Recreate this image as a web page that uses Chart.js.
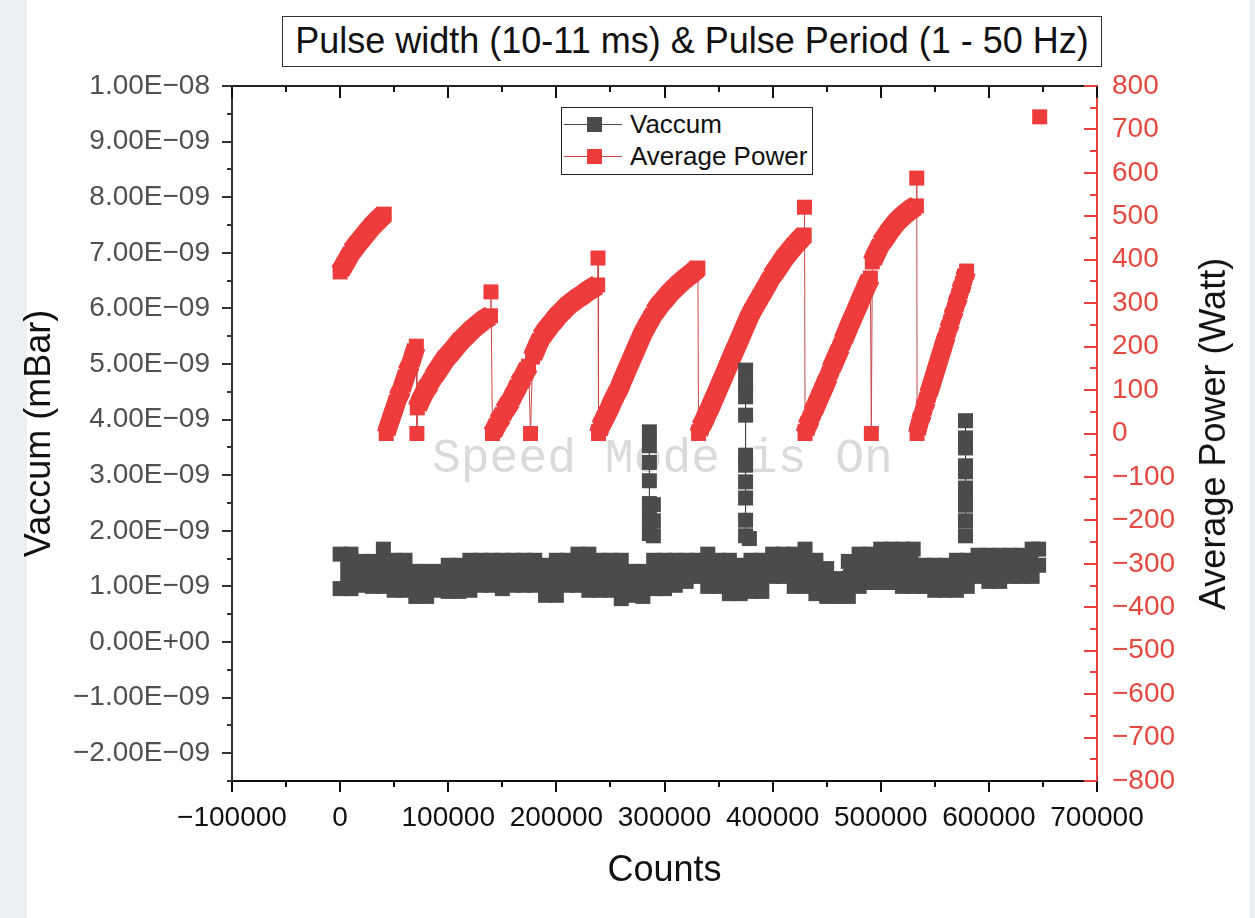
<!DOCTYPE html>
<html lang="en">
<head>
<meta charset="utf-8">
<title>Pulse width (10-11 ms) &amp; Pulse Period (1 - 50 Hz)</title>
<script src="https://cdn.jsdelivr.net/npm/chart.js@4.4.1/dist/chart.umd.min.js"></script>
<style>
  html, body { margin: 0; padding: 0; }
  body {
    width: 1255px; height: 918px; overflow: hidden;
    background: linear-gradient(to right, #eceff3 0 27px, #ffffff 27px 1250px, #eceff3 1250px);
    font-family: "Liberation Sans", Arial, sans-serif;
    color: #111;
  }
  #wrap { position: relative; width: 1255px; height: 918px; }
  #chart { position: absolute; left: 0; top: 0; }
  #title {
    position: absolute; left: 282px; top: 16px; width: 820px; height: 51px;
    box-sizing: border-box; border: 1.5px solid #333; background: #fff;
    font-size: 36px; line-height: 48px; text-align: center; white-space: nowrap;
  }
  #legend {
    position: absolute; left: 561px; top: 107px; width: 252px; height: 68px;
    box-sizing: border-box; border: 1px solid #222; background: #fff;
  }
  #legend .row { position: absolute; left: 0; width: 100%; height: 30px; }
  #legend .line { position: absolute; left: 2px; top: 14.5px; width: 58px; height: 1px; }
  #legend .mark { position: absolute; left: 25px; top: 7.5px; width: 15px; height: 15px; }
  #legend .text { position: absolute; left: 68px; top: 0; font-size: 26px; line-height: 30px; white-space: nowrap; }
  #y2title {
    position: absolute; left: 1213px; top: 434px;
    transform: translate(-50%, -50%) rotate(-90deg);
    font-size: 36px; white-space: nowrap;
  }
</style>
</head>
<body>
<div id="wrap">
  <canvas id="chart" width="1255" height="918"></canvas>
  <div id="title">Pulse width (10-11 ms) &amp; Pulse Period (1 - 50 Hz)</div>
  <div id="legend"></div>
  <div id="y2title">Average Power (Watt)</div>
</div>
<script>
// Vacuum band: one column every 10000 counts
const vacCounts = [
  0, 10000, 20000, 30000, 40000, 50000, 60000, 70000, 80000, 90000,
  100000, 110000, 120000, 130000, 140000, 150000, 160000, 170000, 180000, 190000,
  200000, 210000, 220000, 230000, 240000, 250000, 260000, 270000, 280000, 290000,
  300000, 310000, 320000, 330000, 340000, 350000, 360000, 370000, 380000, 390000,
  400000, 410000, 420000, 430000, 440000, 450000, 460000, 470000, 480000, 490000,
  500000, 510000, 520000, 530000, 540000, 550000, 560000, 570000, 580000, 590000,
  600000, 610000, 620000, 630000, 640000, 646000
];
// highest and lowest reading in each column, in units of 1E-09 mBar
const vacHigh = [
  1.58, 1.58, 1.45, 1.45, 1.67, 1.47, 1.47, 1.27, 1.27, 1.27,
  1.38, 1.38, 1.47, 1.47, 1.47, 1.47, 1.47, 1.47, 1.47, 1.38,
  1.47, 1.47, 1.58, 1.58, 1.47, 1.47, 1.47, 1.27, 1.27, 1.47,
  1.47, 1.47, 1.47, 1.47, 1.58, 1.47, 1.47, 1.38, 1.47, 1.47,
  1.58, 1.58, 1.58, 1.67, 1.47, 1.32, 1.14, 1.45, 1.58, 1.58,
  1.67, 1.67, 1.67, 1.67, 1.38, 1.38, 1.38, 1.47, 1.47, 1.56,
  1.56, 1.56, 1.56, 1.56, 1.67, 1.67
];
const vacLow = [
  0.96, 0.96, 1.02, 1.00, 1.00, 0.93, 0.93, 0.82, 0.82, 0.93,
  0.91, 0.91, 0.93, 1.02, 1.02, 0.96, 1.02, 1.02, 1.02, 0.84,
  0.84, 1.02, 1.02, 0.93, 0.93, 0.93, 0.78, 0.84, 0.82, 0.96,
  0.96, 1.02, 1.09, 1.18, 1.00, 1.00, 0.87, 0.87, 0.91, 0.91,
  1.18, 1.18, 1.00, 1.00, 0.87, 0.82, 0.82, 0.82, 1.00, 1.07,
  1.07, 1.07, 1.00, 1.00, 1.00, 0.93, 0.93, 0.93, 1.00, 1.18,
  1.09, 1.09, 1.18, 1.18, 1.18, 1.38
];

// pressure bursts above the band (null breaks the trace)
const burstCounts = [
  289700, 289700, 289700, 286000, 286000, 286000, 286000, 286000, 286000, 286000, 287000,
  378500, 375000, 375000, 375000, 375000, 375000, 375000, 375000, 375000, 375000, 375000, 376000,
  578400, 578400, 578400, 578400, 578400, 578400, 578400, 578400, 578400, 578400
];
const burstValues = [
  1.91, 2.18, 2.47, 1.95, 2.22, 2.49, 2.90, 3.23, 3.53, 3.78, null,
  1.86, 1.91, 2.19, 2.59, 2.88, 3.18, 3.36, 4.08, 4.41, 4.63, 4.89, null,
  1.91, 2.18, 2.46, 2.59, 2.77, 3.06, 3.17, 3.49, 3.67, 3.98
];

// average power trace (null breaks the trace)
const powerCounts = [
  0, 3700, 7400, 11100, 15800, 20400, 25000, 29700, 35200, 40800,
  41500,
  42600, 44500, 46400, 48200, 50100, 51900, 53800, 56600, 58400, 60300, 62100, 64900, 66700, 68600, 70500,
  71000,
  71400, 74200, 76900, 79700, 82500, 86200, 89900, 93600, 97300, 102000, 106600, 111200, 115900, 121400, 127000, 132600, 139100,
  139500,
  140900, 143700, 146500, 149200, 152000, 154800, 157600, 160400, 163200, 165900, 168700, 171500, 174300,
  176100,
  178000, 180800, 183500, 186300, 190000, 193700, 197500, 201200, 205800, 210400, 215100, 219700, 224300, 229000, 233600, 238200,
  238500,
  239000, 241000, 243800, 246600, 249400, 252100, 254900, 257700, 260500, 263300, 266000, 268800, 271600, 274400,
  277200, 280000, 283700, 287400, 291100, 294800, 299400, 304100, 308700, 313300, 318900, 324500, 330900,
  331500, 333700, 336500, 339300, 342100, 344800, 347600, 350400, 353200, 356000, 358700, 361500, 364300, 367100, 369900, 372700,
  375400, 378200, 381000, 384700, 388400, 392100, 395800, 399500, 403200, 407000, 410700, 415300, 419900, 424600, 429200,
  429500,
  430000, 432000, 434800, 437500, 440300, 443100, 445900, 448700, 451400, 454200, 457000, 459800, 462600, 465400, 468100,
  470900, 473700, 476500, 479300, 482000, 484800, 487600, 490400,
  491300,
  492200, 495000, 497800, 500600, 504300, 508000, 511700, 515400, 519100, 523800, 528400, 533000,
  533300,
  533600, 534900, 536700, 538600, 540400, 542300, 544100, 546000, 547900, 549700, 551600, 553400, 555300, 557100, 559000,
  560800, 562700, 564600, 566400, 568300, 570100, 572000, 573800, 575700, 577500, 579400,
  600000,
  647000
];
const powerWatts = [
  372, 388, 404, 420, 436, 450, 464, 478, 492, 505,
  null,
  0, 15, 29, 43, 56, 70, 84, 100, 114, 128, 142, 158, 172, 188, 201,
  0,
  59, 75, 89, 102, 114, 130, 144, 158, 172, 185, 199, 213, 224, 238, 250, 261, 271,
  326,
  0, 13, 27, 38, 52, 63, 75, 89, 102, 116, 128, 142, 155,
  0,
  176, 192, 208, 222, 236, 248, 259, 271, 282, 294, 303, 312, 319, 328, 335, 342,
  404,
  0, 17, 31, 45, 59, 75, 89, 102, 119, 135, 151, 167, 183, 199,
  215, 231, 248, 264, 280, 294, 307, 321, 333, 344, 356, 367, 381,
  0, 15, 29, 45, 59, 75, 91, 107, 123, 139, 155, 172, 188, 204, 220, 236,
  252, 268, 282, 298, 314, 330, 346, 363, 376, 390, 404, 418, 432, 445, 457,
  521,
  0, 17, 33, 50, 66, 82, 98, 114, 130, 149, 165, 181, 197, 215, 231,
  248, 264, 280, 296, 312, 328, 344, 358,
  0,
  395, 411, 425, 439, 452, 466, 478, 489, 498, 508, 517, 524,
  588,
  0, 15, 31, 45, 61, 75, 91, 105, 121, 135, 151, 165, 181, 195, 211,
  224, 241, 254, 271, 284, 300, 314, 330, 344, 360, 374,
  null,
  729
];

const xTickStep = 100000;
const vacTickStep = 1;
const powerTickStep = 100;

const GRAY = '#4b4b4b';
const RED = '#ee3c3c';
const RED_LINE = '#c94848';
const MARKER_SIDE = 15;

Chart.defaults.font.family = '"Liberation Sans", Arial, sans-serif';
Chart.defaults.color = '#111';

const toPoints = (xs, ys) => xs.map((x, i) => ({ x: x, y: ys[i] }));

function minus(v) {
  return v < 0 ? '\u2212' + Math.abs(v) : String(v);
}

// 1.5 (in 1E-09 units) -> "1.50E−09"
function sciLabel(v) {
  v = Math.round(v * 1000) / 1000;
  if (v === 0) return '0.00E+00';
  const e = Math.floor(Math.log10(Math.abs(v)));
  const mant = v / Math.pow(10, e);
  const exp = e - 9;
  return (mant < 0 ? '\u2212' : '') + Math.abs(mant).toFixed(2) + 'E' +
    (exp < 0 ? '\u2212' : '+') + String(Math.abs(exp)).padStart(2, '0');
}

function tickValues(min, max, step) {
  const half = step / 2;
  const out = [];
  for (let k = Math.ceil(min / half - 1e-6); k * half <= max + 1e-6; k++) {
    out.push({ value: k * half, major: k % 2 === 0 });
  }
  return out;
}

// consecutive readings of one rising ramp (not a drop or a jump)
function isRamp(ctx) {
  const w0 = powerWatts[ctx.p0DataIndex];
  const w1 = powerWatts[ctx.p1DataIndex];
  const dc = powerCounts[ctx.p1DataIndex] - powerCounts[ctx.p0DataIndex];
  return w1 - w0 >= 0 && w1 - w0 < 40 && dc < 7000;
}

// the dense run of square symbols is as wide as a square swept along the ramp
function rampWidth(ctx) {
  const dx = Math.abs(ctx.p1.x - ctx.p0.x);
  const dy = Math.abs(ctx.p1.y - ctx.p0.y);
  const len = Math.hypot(dx, dy) || 1;
  return Math.round(MARKER_SIDE * (dx + dy) / len);
}

const watermark = {
  id: 'watermark',
  beforeDatasetsDraw(chart) {
    const ctx = chart.ctx;
    ctx.save();
    ctx.font = '48px "Liberation Mono", "Courier New", monospace';
    ctx.fillStyle = '#dadada';
    ctx.textBaseline = 'alphabetic';
    ctx.fillText('Speed Mode is On', 432, 472);
    ctx.restore();
  }
};

const frameTicks = {
  id: 'frameTicks',
  afterDatasetsDraw(chart) {
    const { ctx, chartArea: a, scales: { x, y, y2 } } = chart;
    ctx.save();
    ctx.lineWidth = 2;

    // top frame line
    ctx.strokeStyle = '#222';
    ctx.beginPath();
    ctx.moveTo(a.left - 1, a.top);
    ctx.lineTo(a.right, a.top);
    ctx.stroke();

    // bottom ticks out, top ticks in
    ctx.strokeStyle = '#111';
    ctx.beginPath();
    tickValues(x.min, x.max, xTickStep).forEach(t => {
      const px = Math.round(x.getPixelForValue(t.value));
      ctx.moveTo(px, a.bottom);
      ctx.lineTo(px, a.bottom + (t.major ? 11 : 6));
      ctx.moveTo(px, a.top);
      ctx.lineTo(px, a.top + (t.major ? 12 : 6));
    });
    ctx.stroke();

    // left axis ticks out
    ctx.strokeStyle = '#333';
    ctx.beginPath();
    tickValues(y.min, y.max, vacTickStep).forEach(t => {
      const py = Math.round(y.getPixelForValue(t.value));
      ctx.moveTo(a.left, py);
      ctx.lineTo(a.left - (t.major ? 10 : 5), py);
    });
    ctx.stroke();

    // right axis ticks in
    ctx.strokeStyle = '#e8403f';
    ctx.beginPath();
    tickValues(y2.min, y2.max, powerTickStep).forEach(t => {
      const py = Math.round(y2.getPixelForValue(t.value));
      ctx.moveTo(a.right, py);
      ctx.lineTo(a.right - (t.major ? 13 : 7), py);
    });
    ctx.stroke();
    ctx.restore();
  }
};

const markerStyle = {
  pointStyle: 'rect',
  pointRadius: MARKER_SIDE / Math.SQRT2,
  pointHoverRadius: MARKER_SIDE / Math.SQRT2,
  pointBorderWidth: 0
};

const chart = new Chart(document.getElementById('chart'), {
  type: 'line',
  data: {
    datasets: [
      {
        label: 'Vaccum',
        inLegend: true,
        data: toPoints(vacCounts, vacLow),
        yAxisID: 'y',
        showLine: false,
        borderColor: GRAY,
        pointBackgroundColor: GRAY,
        ...markerStyle
      },
      {
        label: 'Vaccum (max)',
        data: toPoints(vacCounts, vacHigh),
        yAxisID: 'y',
        showLine: false,
        fill: '-1',
        backgroundColor: GRAY,
        borderColor: GRAY,
        pointBackgroundColor: GRAY,
        ...markerStyle
      },
      {
        label: 'Vaccum (bursts)',
        data: toPoints(burstCounts, burstValues),
        yAxisID: 'y',
        showLine: true,
        borderWidth: 1,
        borderColor: '#2a2a2a',
        pointBackgroundColor: GRAY,
        ...markerStyle
      },
      {
        label: 'Average Power',
        inLegend: true,
        data: toPoints(powerCounts, powerWatts),
        yAxisID: 'y2',
        showLine: true,
        borderWidth: 1,
        borderColor: RED_LINE,
        borderJoinStyle: 'round',
        pointBackgroundColor: RED,
        segment: {
          borderWidth: ctx => (isRamp(ctx) ? rampWidth(ctx) : 1),
          borderColor: ctx => (isRamp(ctx) ? RED : RED_LINE)
        },
        ...markerStyle
      }
    ]
  },
  options: {
    responsive: false,
    devicePixelRatio: 1,
    animation: false,
    layout: { padding: { top: 86, left: 0, right: 0, bottom: 0 } },
    plugins: {
      legend: { display: false },
      tooltip: { enabled: false }
    },
    scales: {
      x: {
        type: 'linear',
        position: 'bottom',
        min: -100000,
        max: 700000,
        afterFit: s => { s.height = 137; },
        grid: { display: false, drawTicks: false },
        border: { display: true, color: '#111', width: 2 },
        ticks: {
          stepSize: xTickStep,
          autoSkip: false,
          maxRotation: 0,
          padding: 20,
          color: '#111',
          font: { size: 28 },
          callback: v => minus(v)
        },
        title: {
          display: true,
          text: 'Counts',
          color: '#111',
          font: { size: 36 },
          padding: { bottom: 25 }
        }
      },
      y: {
        type: 'linear',
        position: 'left',
        min: -2.5,
        max: 10,
        afterFit: s => { s.width = 232; },
        grid: { display: false, drawTicks: false },
        border: { display: true, color: '#333', width: 2 },
        ticks: {
          stepSize: vacTickStep,
          includeBounds: false,
          padding: 22,
          color: '#505050',
          font: { size: 28 },
          callback: v => sciLabel(v)
        },
        title: {
          display: true,
          text: 'Vaccum (mBar)',
          color: '#111',
          font: { size: 36 },
          padding: { top: 18 }
        }
      },
      y2: {
        type: 'linear',
        position: 'right',
        min: -800,
        max: 800,
        afterFit: s => { s.width = 158; },
        grid: { display: false, drawTicks: false },
        border: { display: true, color: '#e8403f', width: 2 },
        ticks: {
          stepSize: powerTickStep,
          includeBounds: false,
          padding: 15,
          color: '#e4483f',
          font: { size: 28 },
          callback: v => minus(v)
        }
      }
    }
  },
  plugins: [watermark, frameTicks]
});

// legend box drawn from the datasets
const legendEl = document.getElementById('legend');
chart.data.datasets.filter(ds => ds.inLegend).forEach((ds, i) => {
  const row = document.createElement('div');
  row.className = 'row';
  row.style.top = (1 + i * 32) + 'px';
  row.innerHTML =
    '<span class="line" style="background:' + (ds.inLegend && ds.segment ? RED_LINE : ds.borderColor) + '"></span>' +
    '<span class="mark" style="background:' + ds.pointBackgroundColor + '"></span>' +
    '<span class="text">' + ds.label + '</span>';
  legendEl.appendChild(row);
});
</script>
</body>
</html>
